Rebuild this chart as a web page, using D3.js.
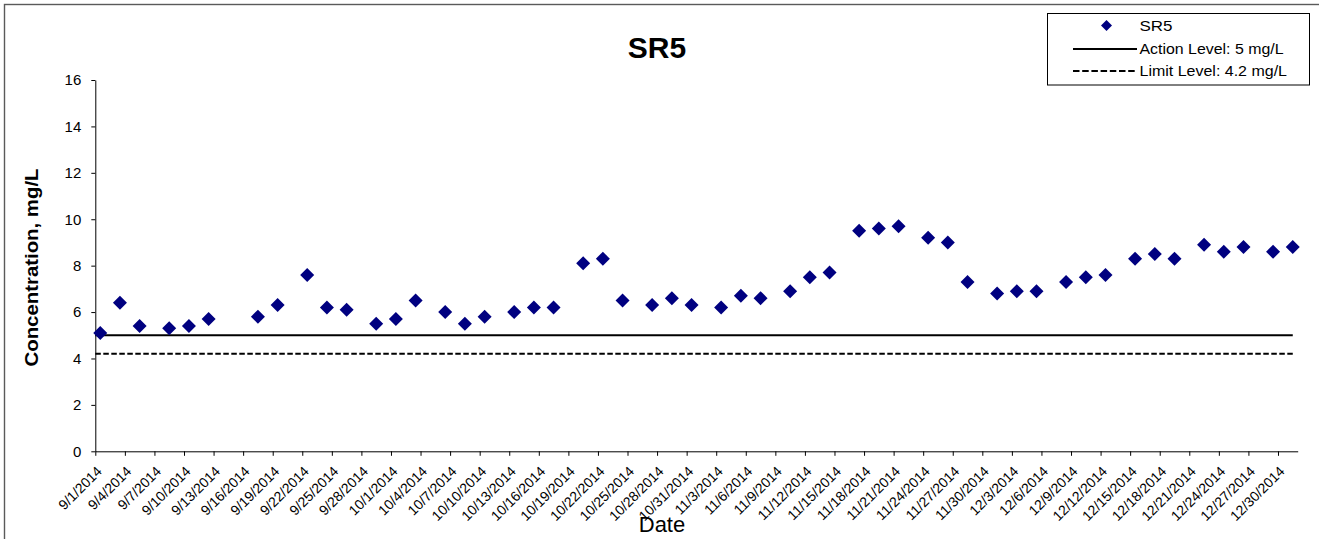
<!DOCTYPE html>
<html>
<head>
<meta charset="utf-8">
<script src="https://cdn.jsdelivr.net/npm/d3@7"></script>
<style>
  html, body { margin: 0; padding: 0; background: #fff; }
  svg { display: block; font-family: "Liberation Sans", Arial, sans-serif; }
</style>
</head>
<body>
<svg id="chart" width="1319" height="539"></svg>
<script>
// ---- data ----
const sampleDates = [
  "2014-09-01","2014-09-03","2014-09-05","2014-09-08","2014-09-10","2014-09-12",
  "2014-09-17","2014-09-19","2014-09-22","2014-09-24","2014-09-26","2014-09-29",
  "2014-10-01","2014-10-03","2014-10-06","2014-10-08","2014-10-10","2014-10-13",
  "2014-10-15","2014-10-17","2014-10-20","2014-10-22","2014-10-24","2014-10-27",
  "2014-10-29","2014-10-31","2014-11-03","2014-11-05","2014-11-07","2014-11-10",
  "2014-11-12","2014-11-14","2014-11-17","2014-11-19","2014-11-21","2014-11-24",
  "2014-11-26","2014-11-28","2014-12-01","2014-12-03","2014-12-05","2014-12-08",
  "2014-12-10","2014-12-12","2014-12-15","2014-12-17","2014-12-19","2014-12-22",
  "2014-12-24","2014-12-26","2014-12-29","2014-12-31"
];
const sr5Values = [
  5.1, 6.4, 5.4, 5.3, 5.4, 5.7,
  5.8, 6.3, 7.6, 6.2, 6.1, 5.5,
  5.7, 6.5, 6.0, 5.5, 5.8, 6.0,
  6.2, 6.2, 8.1, 8.3, 6.5, 6.3,
  6.6, 6.3, 6.2, 6.7, 6.6, 6.9,
  7.5, 7.7, 9.5, 9.6, 9.7, 9.2,
  9.0, 7.3, 6.8, 6.9, 6.9, 7.3,
  7.5, 7.6, 8.3, 8.5, 8.3, 8.9,
  8.6, 8.8, 8.6, 8.8
];
const actionLevel = 5;
const limitLevel = 4.2;
const levelDates = ["2014-09-01", "2014-12-31"];
const xDomain = ["2014-09-01", "2015-01-01"];
const xTickLabels = [
  "9/1/2014","9/4/2014","9/7/2014","9/10/2014","9/13/2014","9/16/2014","9/19/2014",
  "9/22/2014","9/25/2014","9/28/2014","10/1/2014","10/4/2014","10/7/2014","10/10/2014",
  "10/13/2014","10/16/2014","10/19/2014","10/22/2014","10/25/2014","10/28/2014",
  "10/31/2014","11/3/2014","11/6/2014","11/9/2014","11/12/2014","11/15/2014",
  "11/18/2014","11/21/2014","11/24/2014","11/27/2014","11/30/2014","12/3/2014",
  "12/6/2014","12/9/2014","12/12/2014","12/15/2014","12/18/2014","12/21/2014",
  "12/24/2014","12/27/2014","12/30/2014"
];
const yTicks = [0, 2, 4, 6, 8, 10, 12, 14, 16];
const legendLabels = ["SR5", "Action Level: 5 mg/L", "Limit Level: 4.2 mg/L"];

// ---- drawing ----
const svg = d3.select("#chart");
const parseISO = d3.utcParse("%Y-%m-%d");
const parseLabel = d3.utcParse("%m/%d/%Y");
const DAY = 86400000;

const plot = { left: 95.3, right: 1297.7, top: 80, bottom: 451.3 };

const x = d3.scaleUtc()
  .domain(xDomain.map(parseISO))
  .range([plot.left, plot.right]);
const y = d3.scaleLinear()
  .domain([0, 16])
  .range([plot.bottom, plot.top]);

// outer chart frame
svg.append("rect")
  .attr("x", 4.5).attr("y", 4.5)
  .attr("width", 1400).attr("height", 600)
  .attr("fill", "none").attr("stroke", "#5a5a5a").attr("stroke-width", 1.4);

// title
svg.append("text")
  .attr("x", 657).attr("y", 57.5)
  .attr("text-anchor", "middle")
  .attr("font-size", 30).attr("font-weight", "bold")
  .text("SR5");

// level lines
const lvlX0 = x(parseISO(levelDates[0]));
const lvlX1 = x(new Date(parseISO(levelDates[1]).getTime() + DAY / 2));
svg.append("line")
  .attr("x1", lvlX0).attr("x2", lvlX1)
  .attr("y1", y(actionLevel)).attr("y2", y(actionLevel))
  .attr("stroke", "#000").attr("stroke-width", 2);
svg.append("line")
  .attr("x1", lvlX0).attr("x2", lvlX1)
  .attr("y1", y(limitLevel)).attr("y2", y(limitLevel))
  .attr("stroke", "#000").attr("stroke-width", 2)
  .attr("stroke-dasharray", "5.5,2.5");

// y axis
const yAxis = d3.axisLeft(y).tickValues(yTicks).tickSize(4).tickPadding(10).tickSizeOuter(0);
const gy = svg.append("g")
  .attr("transform", `translate(${plot.left},0)`)
  .call(yAxis);
gy.selectAll("text").attr("font-size", 15).attr("fill", "#000")
  .attr("font-family", "Liberation Sans, Arial, sans-serif");
gy.selectAll("line, path").attr("stroke", "#000");

// x axis
const xTickDates = xTickLabels.map(parseLabel);
const xAxis = d3.axisBottom(x)
  .tickValues(xTickDates)
  .tickFormat((d, i) => xTickLabels[i])
  .tickSize(4.5).tickSizeOuter(0);
const gx = svg.append("g")
  .attr("transform", `translate(0,${plot.bottom})`)
  .call(xAxis);
gx.selectAll("line, path").attr("stroke", "#000");
gx.selectAll("text")
  .attr("font-size", 14).attr("fill", "#000")
  .attr("font-family", "Liberation Sans, Arial, sans-serif")
  .attr("text-anchor", "end")
  .attr("x", null).attr("y", null).attr("dy", null)
  .attr("transform", "translate(7,21) rotate(-45)");

// axis titles
svg.append("text")
  .attr("transform", "translate(38,267.5) rotate(-90)")
  .attr("text-anchor", "middle")
  .attr("font-size", 19).attr("font-weight", "bold")
  .attr("textLength", 198).attr("lengthAdjust", "spacingAndGlyphs")
  .text("Concentration, mg/L");
svg.append("text")
  .attr("x", 662).attr("y", 532)
  .attr("text-anchor", "middle")
  .attr("font-size", 22)
  .text("Date");

// data points
const diamond = (r) => `M0,${-r}L${r},0L0,${r}L${-r},0Z`;
const points = sampleDates.map((d, i) => ({ date: parseISO(d), value: sr5Values[i] }));
svg.append("g").selectAll("path")
  .data(points)
  .join("path")
  .attr("d", diamond(7))
  .attr("transform", d => `translate(${x(new Date(d.date.getTime() + DAY / 2))},${y(d.value)})`)
  .attr("fill", "#000080");

// legend
const lg = svg.append("g");
lg.append("rect")
  .attr("x", 1047.5).attr("y", 13.5)
  .attr("width", 262).attr("height", 71.5)
  .attr("fill", "#fff").attr("stroke", "#000").attr("stroke-width", 1);
const rowY = [25.5, 49, 71];
lg.append("path").attr("d", diamond(5.5))
  .attr("transform", `translate(1106.5,${rowY[0]})`).attr("fill", "#000080");
lg.append("line").attr("x1", 1073).attr("x2", 1137)
  .attr("y1", rowY[1]).attr("y2", rowY[1])
  .attr("stroke", "#000").attr("stroke-width", 2);
lg.append("line").attr("x1", 1073).attr("x2", 1137)
  .attr("y1", rowY[2]).attr("y2", rowY[2])
  .attr("stroke", "#000").attr("stroke-width", 2).attr("stroke-dasharray", "6.5,2.7");
const legendLengths = [33, 144, 147.5];
legendLabels.forEach((t, i) => {
  lg.append("text")
    .attr("x", 1139.5).attr("y", rowY[i] + 5.3)
    .attr("font-size", 15)
    .attr("textLength", legendLengths[i]).attr("lengthAdjust", "spacingAndGlyphs")
    .text(t);
});
</script>
</body>
</html>
